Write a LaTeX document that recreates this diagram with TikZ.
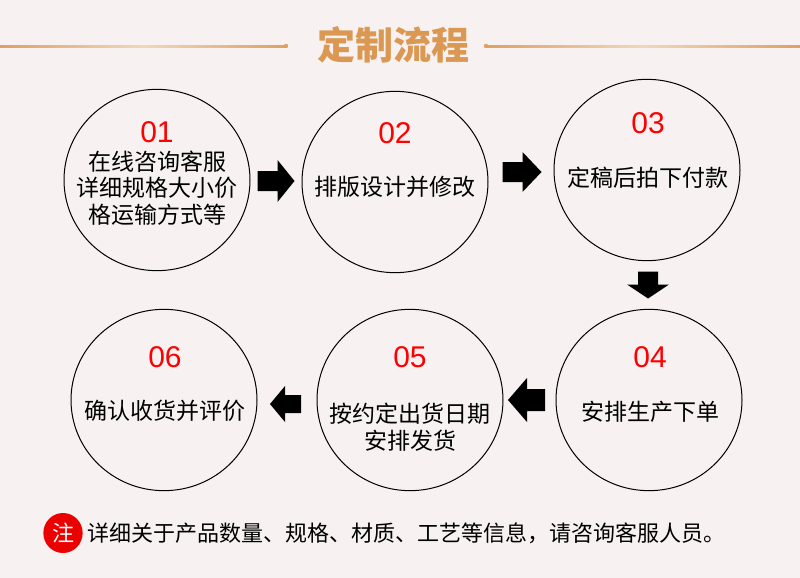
\documentclass[tikz,border=0pt]{standalone}
\usepackage{fontspec}
\setmainfont{Noto Sans CJK SC}
\newfontfamily\numfont{Liberation Sans}
\usetikzlibrary{shapes.geometric,calc}
\definecolor{bgc}{RGB}{247,241,241}
\definecolor{titleor}{RGB}{219,152,82}
\definecolor{lineor}{RGB}{224,160,95}
\definecolor{linelt}{RGB}{240,215,185}
\definecolor{numred}{RGB}{255,0,0}
\definecolor{noteRed}{RGB}{235,0,0}
\tikzset{
  stepcirc/.style={ellipse, draw=black, line width=0.75pt, minimum width=139.5pt, minimum height=136pt, inner sep=0pt},
  numtxt/.style={text=numred, font=\numfont\fontsize{22.5}{24}\selectfont, inner sep=0pt},
  steptxt/.style={text=black, font=\fontsize{17.25}{19.9}\selectfont, align=center, inner sep=0pt},
  pics/barrow/.style n args={4}{code={
    % #1 total length, #2 head length, #3 shaft half width, #4 head half width
    \fill[black] (-#1/2,-#3) -- (#1/2-#2,-#3) -- (#1/2-#2,-#4) -- (#1/2,0)
      -- (#1/2-#2,#4) -- (#1/2-#2,#3) -- (-#1/2,#3) -- cycle;
  }}
}
\begin{document}
\begin{tikzpicture}[x=0.75pt,y=-0.75pt]
\fill[bgc] (0,0) rectangle (800,578);
\useasboundingbox (0,0) rectangle (800,578);
% title
\node[text=titleor, font=\bfseries\fontsize{28.5}{30}\selectfont, inner sep=0pt] (title) at (393,45) {定制流程};
\coordinate (ll) at (0,46);
\coordinate (lr) at (286,46);
\coordinate (rl) at (486,46);
\coordinate (rr) at (800,46);
\shade[left color=lineor, right color=lineor, middle color=linelt] ($(ll)+(0,-1)$) rectangle ($(lr)+(0,1)$);
\shade[left color=lineor, right color=lineor, middle color=linelt] ($(rl)+(0,-1)$) rectangle ($(rr)+(0,1)$);
\fill[lineor] (lr) circle (2.2);
\fill[lineor] (rl) circle (2.2);
% circles
\node[stepcirc] (c1) at (157,180) {};
\node[stepcirc] (c2) at (395,182) {};
\node[stepcirc] (c3) at (647,170) {};
\node[stepcirc] (c4) at (649,400) {};
\node[stepcirc] (c5) at (410,400) {};
\node[stepcirc] (c6) at (164,400) {};
% numbers
\node[numtxt] (n1) at (157,132) {01};
\node[numtxt] (n2) at (395,133) {02};
\node[numtxt] (n3) at (648,123) {03};
\node[numtxt] (n4) at (650,357) {04};
\node[numtxt] (n5) at (410,357) {05};
\node[numtxt] (n6) at (165,357) {06};
% texts
\node[steptxt] (t1) at (157,188) {在线咨询客服\\详细规格大小价\\格运输方式等};
\node[steptxt] (t2) at (395,187) {排版设计并修改};
\node[steptxt] (t3) at (648,178) {定稿后拍下付款};
\node[steptxt] (t4) at (650,412) {安排生产下单};
\node[steptxt] (t5) at (410,427) {按约定出货日期\\安排发货};
\node[steptxt] (t6) at (165,411) {确认收货并评价};
% arrows
\pic at ($(c1.east)!0.5!(c2.west)$) {barrow={37}{17}{10}{21}};
\pic at ($(c2.east)!0.5!(c3.west)+(1,-4)$) {barrow={39}{19}{10}{20}};
\pic[rotate=-90] at ($(c3.south)!0.5!(c4.north)$) {barrow={27}{14}{10}{21}};
\pic[rotate=180] at ($(c4.west)!0.5!(c5.east)+(-3,0)$) {barrow={37}{19}{11}{22}};
\pic[rotate=180] at ($(c5.west)!0.5!(c6.east)+(-1.5,4)$) {barrow={31}{15}{9}{18}};
% footnote
\node[ellipse, fill=noteRed, minimum width=29.5pt, minimum height=30pt, inner sep=0pt, text=white, font=\fontsize{16.5}{18}\selectfont] (note) at (63,533) {注};
\node[anchor=west, inner sep=0pt, font=\fontsize{16.5}{18}\selectfont] (notetxt) at (87,533) {详细关于产品数量、规格、材质、工艺等信息，请咨询客服人员。};
\end{tikzpicture}
\end{document}
